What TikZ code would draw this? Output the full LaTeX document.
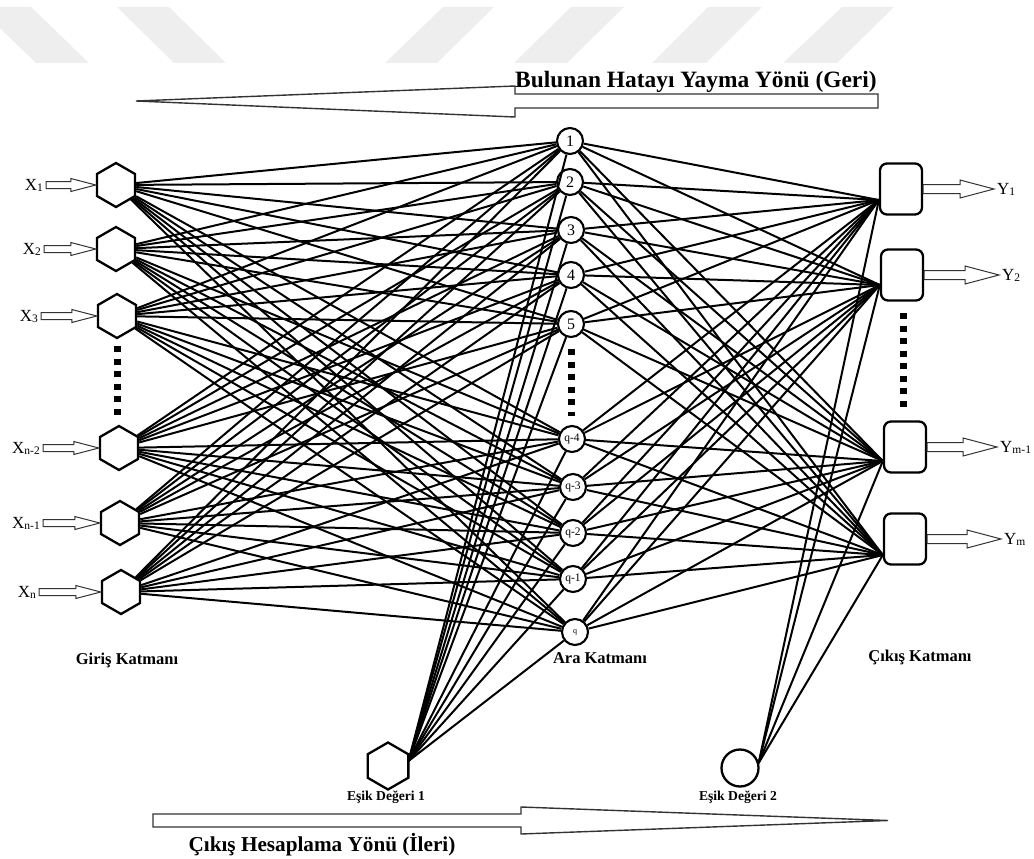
\documentclass[tikz,border=0pt]{standalone}
\usepackage{fontspec}
\setmainfont{Liberation Serif}
\usetikzlibrary{shapes.geometric,calc}
\definecolor{wmgray}{HTML}{EEEEEE}
\newcommand\sbs[1]{\raisebox{-1pt}{\fontsize{11.5}{11.5}\selectfont #1}}
\newcommand\harr[5]{\draw[harrow] let \p1=(#1),\p2=(#2) in (\x1,\y1+#3) -- (\x2-#5,\y1+#3) -- (\x2-#5,\y1+#4) -- (\x2,\y1) -- (\x2-#5,\y1-#4) -- (\x2-#5,\y1-#3) -- (\x1,\y1-#3) -- cycle;}
\tikzset{
 inhex/.style={regular polygon,regular polygon sides=6,shape border rotate=30,draw,line width=2.3pt,fill=white,inner sep=0pt,minimum size=44pt},
 hid/.style={circle,draw,line width=2.1pt,fill=white,inner sep=0pt,minimum size=26pt,font=\fontsize{16}{16}\selectfont},
 outbox/.style={rectangle,rounded corners=7pt,draw,line width=2.3pt,fill=white,minimum width=42pt,minimum height=51pt,inner sep=0pt},
 conn/.style={line width=2pt},
 harrow/.style={draw=black!80,line width=1pt,fill=white},
 bigarrow/.style={draw=black!80,line width=1.4pt,fill=white},
 xlab/.style={inner sep=0pt,font=\fontsize{17}{17}\selectfont},
 layerlab/.style={font=\bfseries\fontsize{16.5}{16.5}\selectfont},
 biaslab/.style={font=\bfseries\fontsize{13.6}{13.6}\selectfont},
 dotcol/.style={line width=7pt,dash pattern=on 6pt off 6.5pt},
}
\begin{document}
\begin{tikzpicture}[x=1pt,y=-1pt]
\useasboundingbox (0,0) rectangle (1034,859);
% watermark
\fill[wmgray] (-22,7) -- (31,7) -- (89,63) -- (36,63) -- cycle;
\fill[wmgray] (117,7) -- (169,7) -- (226,63) -- (174,63) -- cycle;
\fill[wmgray] (443,7) -- (494,7) -- (437,63) -- (385,63) -- cycle;
\fill[wmgray] (571,7) -- (624,7) -- (567,63) -- (514,63) -- cycle;
\fill[wmgray] (708,7) -- (762,7) -- (706,63) -- (652,63) -- cycle;
\fill[wmgray] (842,7) -- (894,7) -- (837,63) -- (783,63) -- cycle;
% big direction arrows
\draw[bigarrow] (878,94) -- (515,94) -- (515,86) -- (136,101) -- (515,117) -- (515,108) -- (878,108) -- cycle;
\node[font=\bfseries\fontsize{23.4}{23.4}\selectfont,anchor=base west,inner sep=0pt] (geri) at (515,88) {Bulunan Hatayı Yayma Yönü (Geri)};
\draw[bigarrow] (153,814) -- (521,814) -- (521,807) -- (888,820.5) -- (521,834) -- (521,827) -- (153,827) -- cycle;
\node[font=\bfseries\fontsize{21.2}{21.2}\selectfont,anchor=base] (ileri) at (322,851) {Çıkış Hesaplama Yönü (İleri)};
% input layer
\node[inhex] (i1) at (116,185) {};
\node[inhex] (i2) at (116,249) {};
\node[inhex] (i3) at (117,316) {};
\node[inhex] (i4) at (119,448) {};
\node[inhex] (i5) at (120,523) {};
\node[inhex] (i6) at (121,592) {};
\node[xlab,anchor=east] (x1) at (43,185) {X\sbs{1}};
\node[xlab,anchor=east] (x2) at (41,249) {X\sbs{2}};
\node[xlab,anchor=east] (x3) at (38,316) {X\sbs{3}};
\node[xlab,anchor=east] (x4) at (40,448) {X\sbs{n-2}};
\node[xlab,anchor=east] (x5) at (40,523) {X\sbs{n-1}};
\node[xlab,anchor=east] (x6) at (36,592) {X\sbs{n}};
\foreach \k in {1,...,6} {\harr{$(x\k.east)+(3,0)$}{i\k.west}{3.5pt}{6.5pt}{25pt}}
\draw[dotcol] (117,346) -- (117,417);
% hidden layer
\node[hid] (h1) at (570,141) {1};
\node[hid] (h2) at (570,182) {2};
\node[hid] (h3) at (571,230) {3};
\node[hid] (h4) at (571,275) {4};
\node[hid] (h5) at (571,324) {5};
\node[hid,font=\fontsize{11.5}{11.5}\selectfont] (h6) at (572,439) {q-4};
\node[hid,font=\fontsize{11.5}{11.5}\selectfont] (h7) at (573,487) {q-3};
\node[hid,font=\fontsize{11.5}{11.5}\selectfont] (h8) at (573,533) {q-2};
\node[hid,font=\fontsize{11.5}{11.5}\selectfont] (h9) at (573,579) {q-1};
\node[hid,font=\fontsize{8}{8}\selectfont] (h10) at (575,632) {q};
\draw[dotcol] (571,349) -- (571,416);
% output layer
\node[outbox] (o1) at (901,189) {};
\node[outbox] (o2) at (902,275) {};
\node[outbox] (o3) at (905,447) {};
\node[outbox] (o4) at (905,539) {};
\coordinate (oin1) at ($(o1.west)+(0,11)$);
\coordinate (oin2) at ($(o2.west)+(0,10)$);
\coordinate (oin3) at ($(o3.west)+(0,14)$);
\coordinate (oin4) at ($(o4.west)+(0,16)$);
\node[xlab,anchor=west] (y1) at (997,189) {Y\sbs{1}};
\node[xlab,anchor=west] (y2) at (1002,275) {Y\sbs{2}};
\node[xlab,anchor=west] (y3) at (1000,447) {Y\sbs{m-1}};
\node[xlab,anchor=west] (y4) at (1004,539) {Y\sbs{m}};
\foreach \k in {1,...,4} {\harr{o\k.east}{$(y\k.west)+(-3,0)$}{4.5pt}{9pt}{34pt}}
\draw[dotcol] (903,313) -- (903,411);
% bias nodes
\node[inhex,minimum size=47pt] (b1) at (388,766) {};
\node[circle,draw,line width=2.3pt,fill=white,minimum size=37pt,inner sep=0pt] (b2) at (740,768) {};
\coordinate (b1out) at ($(b1.east)+(-1,-5)$);
\coordinate (b2out) at ($(b2.east)+(-1,-5)$);
\node[biaslab] (b1lab) at (386,797) {Eşik Değeri 1};
\node[biaslab] (b2lab) at (738,797) {Eşik Değeri 2};
% layer labels
\node[layerlab] (lin) at (127,660) {Giriş Katmanı};
\node[layerlab] (lhid) at (600,658) {Ara Katmanı};
\node[layerlab] (lout) at (920,657) {Çıkış Katmanı};
% connections
\foreach \i in {1,...,6} {\foreach \h in {1,...,10} {\draw[conn] (i\i) -- (h\h);}}
\foreach \h in {1,...,10} {\foreach \o in {1,...,4} {\draw[conn] (h\h) -- (oin\o);}}
\foreach \h in {1,...,10} {\draw[conn] (b1out) -- (h\h);}
\foreach \o in {1,...,4} {\draw[conn] (b2out) -- (oin\o);}
\end{tikzpicture}
\end{document}
